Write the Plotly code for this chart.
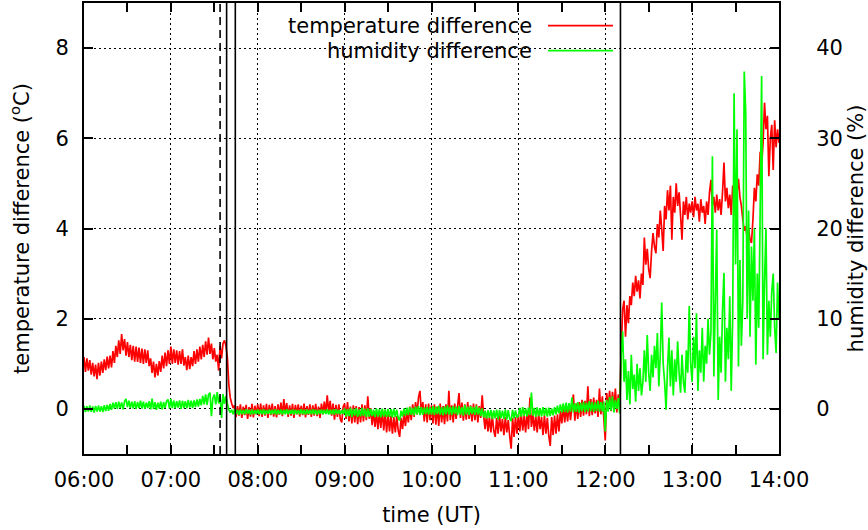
import plotly.graph_objects as go

# ---------------- data (one value per minute, per hour block) ----------------
hour_starts = [6, 7, 8, 9, 10, 11, 12, 13]

temp_06 = [1.15, 0.82, 1.12, 0.85, 1.08, 0.76, 1.02, 0.72, 0.98, 0.66,
           1.02, 0.74, 1.05, 0.80, 1.10, 0.86, 1.16, 0.90, 1.18, 0.92,
           1.28, 1.02, 1.40, 1.15, 1.52, 1.22, 1.66, 1.30, 1.55, 1.18,
           1.48, 1.15, 1.42, 1.08, 1.40, 1.05, 1.38, 1.04, 1.36, 1.02,
           1.34, 1.00, 1.32, 1.02, 1.30, 0.95, 1.12, 0.80, 1.05, 0.70,
           1.00, 0.74, 1.06, 0.82, 1.18, 0.90, 1.25, 0.95, 1.30, 1.00]
temp_07 = [1.38, 1.00, 1.32, 1.02, 1.30, 0.98, 1.28, 1.00, 1.32, 0.96,
           1.15, 0.86, 1.18, 0.88, 1.15, 0.95, 1.28, 1.00, 1.32, 1.05,
           1.38, 1.10, 1.42, 1.15, 1.50, 1.20, 1.58, 1.22, 1.45, 1.10,
           1.35, 1.05, 1.20, 0.85, 1.40, 1.12, 1.45, 1.52, 1.40, 1.15,
           0.55, 0.25, 0.12, 0.02, 0.08, -0.18, 0.06, -0.15, 0.10, -0.20,
           0.05, -0.14, 0.09, -0.22, 0.04, -0.17, 0.11, -0.19, 0.07, -0.12]
temp_08 = [0.10, -0.16, 0.12, -0.18, 0.08, -0.15, 0.11, -0.20, 0.09, -0.14,
           0.12, -0.17, 0.06, -0.19, 0.10, -0.13, 0.14, -0.16, 0.22, -0.10,
           0.13, -0.18, 0.08, -0.15, 0.11, -0.20, 0.09, -0.12, 0.10, -0.17,
           0.07, -0.14, 0.12, -0.19, 0.06, -0.13, 0.10, -0.18, 0.08, -0.15,
           0.11, -0.16, 0.05, -0.20, 0.12, -0.12, 0.16, -0.10, 0.30, -0.08,
           0.18, -0.15, 0.12, -0.24, 0.09, -0.18, 0.10, -0.22, -0.30, 0.05]
temp_09 = [0.12, -0.22, 0.15, -0.28, 0.05, -0.32, 0.08, -0.30, 0.06, -0.34,
           0.04, -0.30, 0.10, -0.28, 0.08, -0.25, 0.28, -0.22, 0.02, -0.36,
           -0.05, -0.40, -0.08, -0.45, -0.06, -0.42, -0.02, -0.48, -0.10, -0.52,
           -0.12, -0.50, -0.15, -0.55, -0.18, -0.52, -0.16, -0.48, -0.62, -0.20,
           -0.45, -0.10, -0.38, -0.05, -0.30, 0.05, -0.25, 0.10, -0.18, 0.15,
           -0.12, 0.25, 0.40, -0.08, 0.15, -0.28, 0.10, -0.30, 0.12, -0.25]
temp_10 = [0.08, -0.32, 0.10, -0.35, 0.05, -0.38, 0.12, -0.30, 0.06, -0.34,
           0.10, -0.28, 0.40, -0.25, 0.08, -0.30, 0.12, -0.22, 0.05, 0.35,
           -0.20, 0.14, -0.26, 0.10, -0.24, 0.15, -0.22, 0.08, -0.28, 0.12,
           -0.25, 0.10, -0.30, 0.06, -0.20, 0.30, -0.15, -0.45, -0.12, -0.50,
           -0.18, -0.52, -0.15, -0.48, -0.62, -0.20, -0.55, -0.15, -0.50, -0.22,
           -0.58, -0.18, -0.52, -0.25, -0.60, -0.88, -0.20, -0.62, -0.18, -0.55]
temp_11 = [-0.12, -0.50, -0.10, -0.48, -0.15, -0.52, -0.08, -0.45, 0.25, -0.40,
           -0.12, -0.48, -0.15, -0.52, -0.10, -0.45, -0.18, -0.58, -0.14, -0.55,
           -0.20, -0.60, -0.82, -0.18, -0.58, -0.15, -0.55, -0.12, -0.50, -0.05,
           -0.32, 0.08, -0.30, 0.05, -0.28, 0.10, -0.25, 0.06, 0.32, -0.26,
           0.12, -0.22, 0.15, -0.18, 0.20, -0.15, 0.18, -0.12, 0.50, -0.16,
           0.22, -0.14, 0.25, -0.10, 0.20, -0.18, 0.45, -0.12, 0.28, -0.20]
temp_12 = [-0.70, 0.35, 0.00, 0.40, -0.05, 0.38, 0.02, 0.45, -0.08, 0.32,
           0.10, 1.30, 2.20, 2.40, 1.60, 2.30, 1.90, 2.50, 2.30, 2.80,
           2.50, 2.95, 2.60, 2.85, 2.45, 3.00, 2.75, 3.80, 3.20, 3.55,
           3.10, 2.90, 3.50, 3.90, 3.60, 3.45, 4.10, 3.80, 4.40, 4.00,
           3.50, 4.50, 4.20, 4.85, 4.40, 4.95, 3.75, 4.70, 4.35, 5.00,
           4.50, 4.80, 4.30, 3.75, 4.60, 4.30, 4.70, 4.20, 4.55, 4.35]
temp_13 = [4.60, 4.25, 4.70, 4.40, 4.55, 4.15, 4.65, 4.35, 4.50, 4.10,
           4.60, 4.30, 4.80, 5.08, 4.50, 4.70, 4.35, 4.75, 4.40, 4.65,
           4.30, 4.80, 5.46, 4.60, 4.90, 4.45, 4.75, 4.30, 4.95, 4.65,
           5.20, 4.80, 5.10, 4.70, 4.50, 4.20, 3.95, 4.05, 3.80, 4.00,
           3.75, 3.68, 4.20, 4.90, 4.60, 5.20, 4.95, 5.70, 5.40, 5.90,
           6.79, 6.20, 6.50, 5.16, 6.00, 6.30, 5.30, 6.40, 5.80, 6.20]
temp_14 = [5.90]

hum_06 = [0.35, -0.35, 0.30, -0.30, 0.38, -0.32, 0.28, -0.40, 0.33, -0.30,
          0.36, -0.28, 0.30, -0.35, 0.40, -0.25, 0.45, -0.20, 0.55, -0.10,
          0.70, 0.05, 0.75, 0.00, 0.80, 0.10, 0.72, -0.05, 0.85, 1.10,
          0.20, 0.90, 0.10, 0.80, 0.05, 0.85, 0.00, 0.75, 0.10, 0.90,
          0.05, 0.80, 0.00, 0.70, 0.10, 0.85, -0.05, 1.15, 0.00, 0.75,
          -0.10, 0.70, 0.05, 0.80, -0.05, 0.75, 0.10, 0.85, 1.05, 0.05]
hum_07 = [1.10, 0.10, 0.90, 0.05, 0.85, 0.15, 0.95, 0.00, 0.90, 0.10,
          0.85, 0.05, 1.00, 0.15, 0.90, 0.10, 0.95, 0.20, 1.05, 0.25,
          1.10, 0.40, 1.45, 0.50, 1.60, 0.45, 1.55, 1.80, -0.80, 1.20,
          1.60, 0.50, 1.85, 0.60, 1.50, -1.00, 1.65, 0.55, 1.40, 0.60,
          -0.10, -0.40, -0.10, -0.60, -0.05, -0.55, -0.10, -0.65, -0.08, -0.58,
          -0.12, -0.60, -0.05, -0.55, -0.10, -0.62, -0.06, -0.58, -0.12, -0.55]
hum_08 = [-0.08, -0.60, -0.10, -0.58, -0.05, -0.62, -0.12, -0.55, -0.06, -0.60,
          -0.10, -0.57, -0.04, -0.63, -0.09, -0.56, -0.07, -0.61, -0.11, -0.58,
          -0.05, -0.60, -0.10, -0.55, -0.06, -0.62, -0.08, -0.57, -0.12, -0.60,
          -0.04, -0.58, -0.09, -0.63, -0.07, -0.56, -0.10, -0.60, -0.05, -0.58,
          -0.08, -0.62, -0.11, -0.55, -0.06, -0.60, -0.09, -0.57, -0.05, -0.61,
          -0.10, -0.58, -0.07, -0.63, -0.04, -0.56, -0.09, -0.60, -0.12, -0.55]
hum_09 = [0.05, -0.85, -0.02, -0.80, 0.10, -0.90, 0.00, -0.75, 0.08, -0.88,
          -0.05, -0.82, 0.12, -0.78, 0.02, -0.92, 0.06, -0.85, 0.00, -0.80,
          -0.08, -0.90, 0.05, -0.86, -0.02, -0.95, 0.04, -0.84, -0.06, -0.92,
          0.00, -0.88, -0.04, -0.96, 0.02, -0.90, -0.08, -1.00, -1.30, -0.20,
          -0.85, 0.05, -0.75, 0.15, -0.70, 0.20, -0.65, 0.10, -0.72, 0.25,
          -0.60, 0.30, -0.70, 0.20, -0.66, 0.15, -0.58, 0.22, -0.64, 0.18]
hum_10 = [-0.62, 0.30, -0.70, 0.25, -0.58, 0.35, -0.66, 0.20, -0.72, 0.28,
          -0.60, 0.40, -0.64, 0.22, -0.70, 0.30, -0.55, 0.25, -0.68, 0.32,
          -0.62, 0.18, -0.74, 0.45, -0.60, 0.26, -0.70, 0.30, -0.58, 0.20,
          -0.66, 0.35, -0.62, 0.15, -0.80, 0.05, -0.95, -0.20, -1.05, -0.15,
          -1.00, -0.10, -1.12, -0.18, -1.05, -0.08, -1.15, -0.12, -1.02, -0.20,
          -1.10, -0.05, -1.20, -0.15, -1.08, -1.35, -0.10, -1.05, -0.18, -0.95]
hum_11 = [-0.80, 0.10, -0.85, 0.20, -0.78, 0.05, -0.82, 0.15, -0.70, 1.80,
          -0.75, 0.12, -0.88, 0.18, -0.80, 0.08, -0.84, 0.20, -0.76, 0.10,
          -0.86, 0.15, -0.80, 0.05, -0.72, 0.20, -0.60, 0.35, -0.50, 0.50,
          -0.40, 0.60, -0.35, 0.70, -0.42, 0.65, -0.30, 1.25, -0.38, 0.62,
          -0.32, 0.75, -0.40, 0.68, -0.28, 0.80, -0.36, 0.70, -0.30, 0.85,
          -0.25, 0.78, -0.34, 0.72, -0.22, 0.90, -0.30, 0.76, -0.26, 0.82]
hum_12 = [-2.5, 1.0, -0.3, 1.3, -0.2, 1.4, -0.4, 1.0, 0.0, 1.2,
          -0.5, 6.0, 8.6, 3.0, 5.5, 1.0, 4.2, 0.5, 6.0, 2.2,
          3.8, 0.8, 5.0, 2.0, 4.5, 1.5, 3.0, 6.5, 3.0, 8.2,
          4.0, 2.0, 6.0, 3.5, 7.0, 4.5, 8.4, 2.5, 6.0, 11.8,
          5.0, 3.0, -0.1, 4.5, 7.9, 2.5, 6.5, 1.5, 5.5, 3.0,
          7.5, 4.0, 1.8, 6.0, 3.0, 1.8, 6.5, 4.0, 11.4, 5.0]
hum_13 = [3.0, 8.0, 4.5, 10.6, 2.0, 6.5, 4.0, 9.0, 3.0, 7.0,
          5.0, 10.0, 6.0, 8.5, 28.0, 3.6, 12.0, 19.9, 1.0, 8.0,
          4.0, 11.0, 15.1, 3.0, 9.0, 5.5, 12.5, 2.0, 10.0, 35.0,
          16.0, 31.0, 4.7, 16.5, 7.0, 12.0, 37.4, 33.0, 10.0, 22.0,
          8.0, 18.0, 12.0, 20.0, 4.9, 15.0, 9.0, 22.0, 36.9, 5.5,
          14.0, 20.0, 6.0, 12.0, 8.0, 13.0, 15.0, 9.0, 6.2, 14.0]
hum_14 = [10.0]

# event markers (hours UT)
event_dashed = [7 + 34 / 60]
event_solid = [7 + 38.5 / 60, 7 + 44.5 / 60, 12 + 10.5 / 60]

x_tick_vals = [6, 7, 8, 9, 10, 11, 12, 13, 14]
x_tick_text = ["06:00", "07:00", "08:00", "09:00", "10:00", "11:00", "12:00", "13:00", "14:00"]
y_tick_vals = [0, 2, 4, 6, 8]
y2_tick_vals = [0, 10, 20, 30, 40]

series_names = ["temperature difference", "humidity difference"]


def build(blocks, last):
    t, v = [], []
    for h, b in zip(hour_starts, blocks):
        n = len(b)
        for i, val in enumerate(b):
            t.append(h + i / n)
            v.append(val)
    t.append(14.0)
    v.extend(last)
    return t, v


t_temp, v_temp = build([temp_06, temp_07, temp_08, temp_09, temp_10, temp_11, temp_12, temp_13], temp_14)
t_hum, v_hum = build([hum_06, hum_07, hum_08, hum_09, hum_10, hum_11, hum_12, hum_13], hum_14)

FONT = "DejaVu Sans"
FS = 21
W, H = 868, 530
ML, MR, MT, MB = 84, 89, 3, 76
PW, PH = W - ML - MR, H - MT - MB


def px(x):
    return (x - ML) / PW


def py(y):
    return (H - MB - y) / PH


fig = go.Figure()
fig.add_trace(go.Scatter(x=t_temp, y=v_temp, mode="lines", name=series_names[0],
                         line=dict(color="#ff0000", width=1.7, simplify=False),
                         showlegend=False, yaxis="y"))
fig.add_trace(go.Scatter(x=t_hum, y=v_hum, mode="lines", name=series_names[1],
                         line=dict(color="#00ff00", width=1.7, simplify=False),
                         showlegend=False, yaxis="y2"))

shapes = []
# white key box (hides grid, under data)
shapes.append(dict(type="rect", xref="paper", yref="paper", x0=px(232), x1=px(627),
                   y0=py(64), y1=1, fillcolor="white", line=dict(width=0), layer="between"))
for xv in event_dashed:
    shapes.append(dict(type="line", xref="x", yref="paper", x0=xv, x1=xv, y0=0, y1=1,
                       line=dict(color="black", width=1.6, dash="8px,5px"), layer="above"))
for xv in event_solid:
    shapes.append(dict(type="line", xref="x", yref="paper", x0=xv, x1=xv, y0=0, y1=1,
                       line=dict(color="black", width=1.6), layer="above"))
# key samples
key_colors = ["#ff0000", "#00ff00"]
key_rows = [25.7, 50.7]
annotations = []
for name, col, yy in zip(series_names, key_colors, key_rows):
    shapes.append(dict(type="line", xref="paper", yref="paper", x0=px(548), x1=px(613),
                       y0=py(yy), y1=py(yy), line=dict(color=col, width=1.7), layer="above"))
    annotations.append(dict(xref="paper", yref="paper", x=px(534), y=py(yy), text=name,
                            showarrow=False, xanchor="right", yanchor="middle",
                            font=dict(family=FONT, size=FS, color="black")))

grid_dash = "1.5px,3.5px"
fig.update_layout(
    width=W, height=H,
    margin=dict(l=ML, r=MR, t=MT, b=MB, autoexpand=False),
    paper_bgcolor="white", plot_bgcolor="white",
    font=dict(family=FONT, size=FS, color="black"),
    shapes=shapes, annotations=annotations,
    showlegend=False,
    xaxis=dict(range=[6, 14], tickvals=x_tick_vals, ticktext=x_tick_text,
               showline=True, linecolor="black", linewidth=2, mirror="allticks",
               ticks="inside", ticklen=9, tickwidth=1.5, tickcolor="black",
               minor=dict(dtick=0.5, tick0=6, ticks="inside", ticklen=5, tickwidth=1.5,
                          tickcolor="black", showgrid=False),
               showgrid=True, gridcolor="black", gridwidth=1, griddash=grid_dash,
               zeroline=False, ticklabelstandoff=6,
               title=dict(text="time (UT)", standoff=16, font=dict(size=FS))),
    yaxis=dict(range=[-1, 9], tickvals=y_tick_vals,
               showline=True, linecolor="black", linewidth=2, mirror=True,
               ticks="inside", ticklen=9, tickwidth=1.5, tickcolor="black",
               showgrid=True, gridcolor="black", gridwidth=1, griddash=grid_dash,
               zeroline=False, ticklabelstandoff=9,
               title=dict(text="temperature difference (<sup>o</sup>C)", standoff=20,
                          font=dict(size=FS))),
    yaxis2=dict(range=[-5, 45], tickvals=y2_tick_vals, overlaying="y", side="right",
                showline=True, linecolor="black", linewidth=2,
                ticks="inside", ticklen=9, tickwidth=1.5, tickcolor="black",
                showgrid=False, zeroline=False, ticklabelstandoff=31,
                title=dict(text="humidity difference (%)", standoff=8, font=dict(size=FS))),
)

fig.write_html("out.html", config={"displayModeBar": False},
               post_script="document.body.style.margin='0';")
